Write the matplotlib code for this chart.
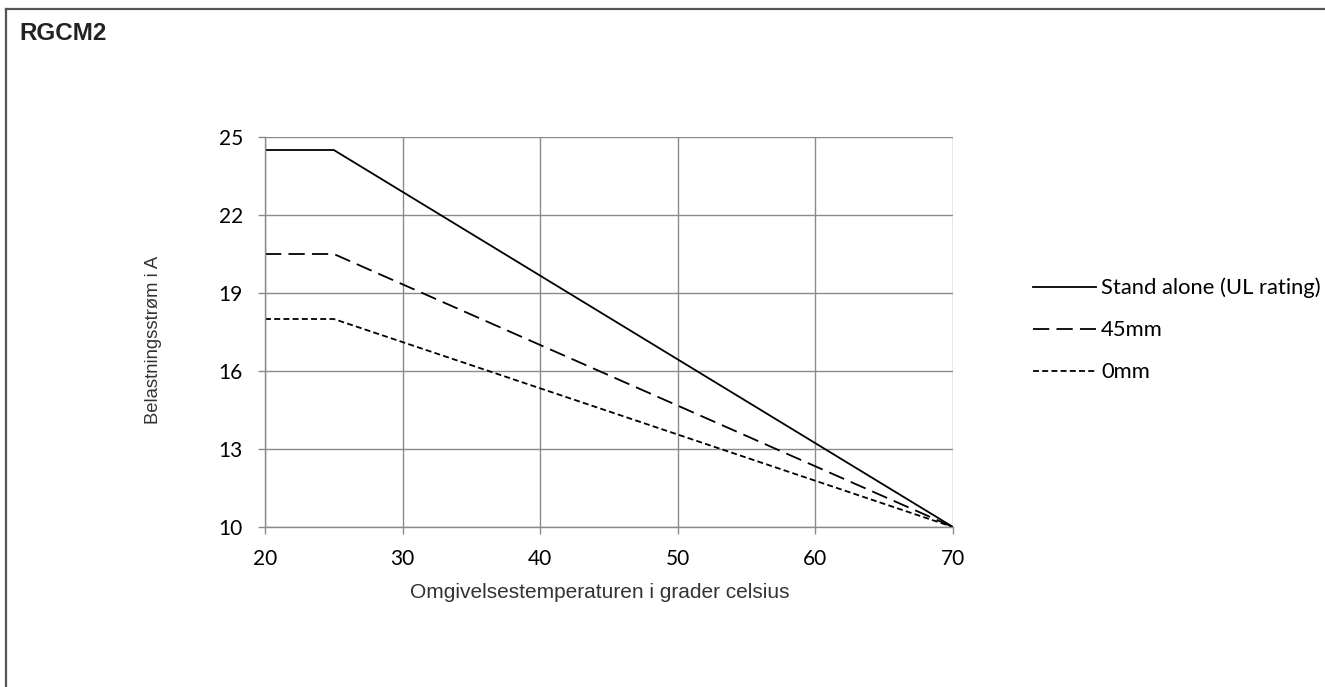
import matplotlib.pyplot as plt
from matplotlib.lines import Line2D

# data
temps = [20, 25, 70]
stand_alone = [24.5, 24.5, 10]
mm45 = [20.5, 20.5, 10]
mm0 = [18, 18, 10]
xticks = [20, 30, 40, 50, 60, 70]
yticks = [10, 13, 16, 19, 22, 25]

W, H = 1325, 687
fig = plt.figure(figsize=(W / 100, H / 100), dpi=100)

# outer frame: only top and left edges are visible
fig.lines.append(Line2D([5.5 / W, 5.5 / W], [0, 1 - 8.5 / H],
                        transform=fig.transFigure, color='#555555', lw=1.6))
fig.lines.append(Line2D([5.5 / W, 1], [1 - 8.5 / H, 1 - 8.5 / H],
                        transform=fig.transFigure, color='#555555', lw=1.6))
fig.text(19 / W, 1 - 34 / H, 'RGCM2', fontsize=17.5, fontweight='bold',
         family='Liberation Sans', color='#222222', va='center')

ax = fig.add_axes([265 / W, 1 - 527 / H, (953 - 265) / W, (527 - 137) / H])

ax.plot(temps, stand_alone, color='black', lw=1.3, label='Stand alone (UL rating)')
ax.plot(temps, mm45, color='black', lw=1.3, dashes=(9, 4), label='45mm')
ax.plot(temps, mm0, color='black', lw=1.3, dashes=(3.3, 1.8), label='0mm')

ax.set_xlim(20, 70)
ax.set_ylim(10, 25)
ax.set_xticks(xticks)
ax.set_yticks(yticks)
ax.grid(True, color='#8a8a8a', lw=1)
ax.set_axisbelow(True)
for s in ['top', 'right']:
    ax.spines[s].set_visible(False)
for s in ['left', 'bottom']:
    ax.spines[s].set_color('#8a8a8a')
    ax.spines[s].set_linewidth(1)
ax.tick_params(axis='both', color='#8a8a8a', length=5, width=1, labelsize=15, pad=11)
for lab in ax.get_xticklabels() + ax.get_yticklabels():
    lab.set_family('Lato')

ax.set_xlabel('Omgivelsestemperaturen i grader celsius', family='Liberation Sans',
              fontsize=15, color='#333333')
ax.xaxis.set_label_coords((600 - 265) / 688, -(583 - 527) / 390)
ax.set_ylabel('Belastningsstrøm i A', family='Liberation Sans',
              fontsize=13.3, color='#333333')
ax.yaxis.set_label_coords((162 - 265) / 688, 0.48)

fig.legend(loc='center left', bbox_to_anchor=(1033 / W, 1 - 330 / H),
           frameon=False, borderpad=0, borderaxespad=0,
           handlelength=2.85, handletextpad=0.25, labelspacing=1.0,
           prop={'family': 'Lato', 'size': 15.8})

fig.savefig('out.png', dpi=100)
